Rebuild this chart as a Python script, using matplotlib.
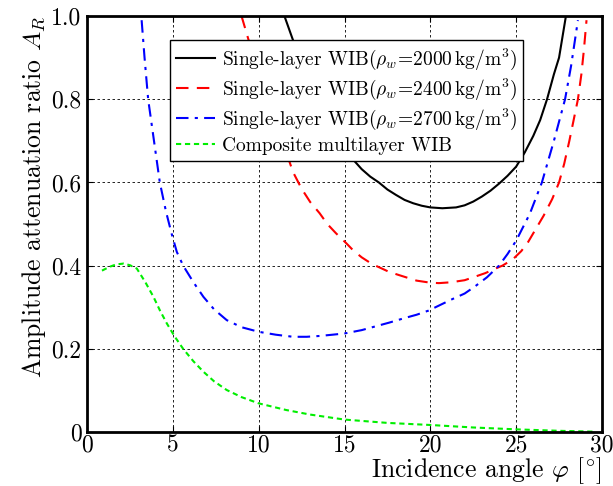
import matplotlib
matplotlib.use("Agg")
import matplotlib.pyplot as plt

plt.rcParams["font.family"] = "serif"
plt.rcParams["font.serif"] = ["cmr10"]
plt.rcParams["mathtext.fontset"] = "cm"
plt.rcParams["axes.formatter.use_mathtext"] = True

# Single-layer WIB, rho_w = 2000 kg/m3
x_2000 = [11.5, 12.0, 12.5, 13.0, 13.5, 14.0, 14.5, 15.0, 15.5, 16.0, 16.5, 17.0,
          17.5, 18.0, 18.5, 19.0, 19.5, 20.0, 20.7, 21.5, 22.0, 22.5, 23.0, 23.5,
          24.0, 24.5, 25.0, 25.5, 26.0, 26.4, 26.8, 27.2, 27.5, 27.9]
y_2000 = [1.0, 0.942, 0.89, 0.845, 0.80, 0.76, 0.72, 0.685, 0.655, 0.632, 0.614, 0.60,
          0.583, 0.57, 0.558, 0.55, 0.544, 0.540, 0.538, 0.54, 0.545, 0.554, 0.566, 0.58,
          0.597, 0.616, 0.638, 0.672, 0.712, 0.75, 0.80, 0.86, 0.90, 1.0]

# Single-layer WIB, rho_w = 2400 kg/m3
x_2400 = [9.0, 9.5, 10.0, 10.5, 11.0, 11.5, 12.0, 12.5, 13.0, 13.55, 14.0, 14.5,
          15.1, 15.5, 16.0, 16.6, 17.6, 18.2, 19.2, 20.0, 20.5, 21.2, 22.0, 22.5,
          23.2, 23.85, 24.2, 24.8, 25.3, 25.7, 26.1, 26.6, 27.1, 27.5, 27.8, 28.1,
          28.4, 28.6, 28.8, 28.95, 29.1]
y_2400 = [1.0, 0.93, 0.865, 0.80, 0.74, 0.685, 0.625, 0.585, 0.553, 0.526, 0.50, 0.478,
          0.454, 0.437, 0.42, 0.404, 0.385, 0.377, 0.364, 0.359, 0.358, 0.36, 0.365, 0.372,
          0.382, 0.394, 0.40, 0.415, 0.435, 0.457, 0.485, 0.52, 0.56, 0.60, 0.645, 0.70,
          0.76, 0.80, 0.86, 0.92, 0.99]

# Single-layer WIB, rho_w = 2700 kg/m3
x_2700 = [3.18, 3.35, 3.56, 3.9, 4.24, 4.6, 4.92, 5.23, 5.6, 6.2, 6.78, 7.4, 8.14,
          9.0, 10.0, 11.0, 12.0, 12.8, 13.56, 14.3, 15.0, 16.0, 16.8, 17.6, 18.5,
          19.2, 19.9, 20.5, 21.2, 22.0, 22.6, 23.3, 24.0, 24.5, 25.0, 25.8, 26.5,
          27.2, 27.85, 28.2, 28.6]
y_2700 = [0.99, 0.9, 0.8, 0.7, 0.6, 0.53, 0.478, 0.433, 0.40, 0.36, 0.325, 0.295, 0.269,
          0.252, 0.241, 0.234, 0.229, 0.229, 0.231, 0.234, 0.237, 0.245, 0.254, 0.263, 0.274,
          0.282, 0.292, 0.304, 0.318, 0.333, 0.35, 0.372, 0.40, 0.428, 0.46, 0.525, 0.60,
          0.70, 0.80, 0.88, 0.99]

# Composite multilayer WIB
x_comp = [0.87, 1.3, 1.7, 2.13, 2.5, 2.9, 3.4, 3.87, 4.25, 4.65, 5.1, 5.6, 6.2, 6.78,
          7.4, 8.14, 9.0, 10.0, 11.6, 13.0, 15.0, 17.5, 20.0, 22.5, 25.0, 27.5, 29.5]
y_comp = [0.388, 0.397, 0.403, 0.405, 0.401, 0.393, 0.36, 0.325, 0.292, 0.261, 0.23,
          0.2, 0.17, 0.145, 0.122, 0.101, 0.084, 0.069, 0.053, 0.042, 0.030, 0.022,
          0.017, 0.011, 0.0065, 0.003, 0.001]

labels = [r"Single-layer WIB($\rho_w\!=\!2000\,\mathrm{kg/m^3}$)",
          r"Single-layer WIB($\rho_w\!=\!2400\,\mathrm{kg/m^3}$)",
          r"Single-layer WIB($\rho_w\!=\!2700\,\mathrm{kg/m^3}$)",
          "Composite multilayer WIB"]

x_ticks = [0, 5, 10, 15, 20, 25, 30]
y_ticks = [0, 0.2, 0.4, 0.6, 0.8, 1.0]
y_tick_labels = ["0", "0.2", "0.4", "0.6", "0.8", "1.0"]

fig = plt.figure(figsize=(6.13, 4.86), dpi=100)
ax = fig.add_axes([0.142, 0.111, 0.840, 0.856])

ax.plot(x_2000, y_2000, color="k", lw=1.5, label=labels[0])
ax.plot(x_2400, y_2400, color="r", lw=1.5, ls=(0, (6, 4)), label=labels[1])
ax.plot(x_2700, y_2700, color="b", lw=1.5, ls=(0, (6, 3, 1.5, 3)), label=labels[2])
ax.plot(x_comp, y_comp, color="#00ee00", lw=1.5, ls=(0, (2.5, 1.8)), label=labels[3])

ax.set_xlim(0, 30)
ax.set_ylim(0, 1)
ax.set_xticks(x_ticks)
ax.set_xticklabels([str(t) for t in x_ticks])
ax.set_yticks(y_ticks)
ax.set_yticklabels(y_tick_labels)
ax.tick_params(direction="in", length=4, labelsize=17, top=True, right=True)
ax.tick_params(axis="x", pad=2)
ax.tick_params(axis="y", pad=4)
ax.grid(True, color="k", ls=(0, (3, 3)), lw=0.6)
for s in ax.spines.values():
    s.set_linewidth(2)

ax.set_xlabel(r"Incidence angle $\varphi$ [$^{\circ}$]", fontsize=18.5, loc="right", labelpad=-1)
ax.set_ylabel(r"Amplitude attenuation ratio $A_R$", fontsize=18.5, loc="top", labelpad=2)

leg = ax.legend(loc="upper left", bbox_to_anchor=(0.161, 0.942), fontsize=14,
                frameon=True, fancybox=False, edgecolor="k", framealpha=1,
                borderaxespad=0, labelspacing=0.25, handlelength=2.0, handletextpad=0.4,
                borderpad=0.3)
leg.get_frame().set_linewidth(1.0)

fig.savefig("out.png", dpi=100)
